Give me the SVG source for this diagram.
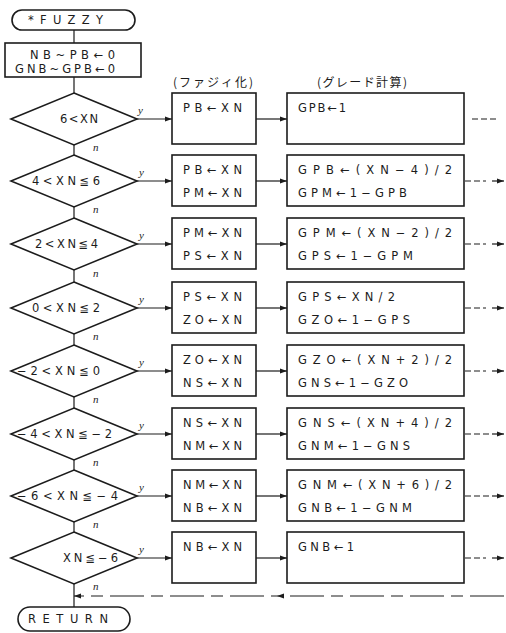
<svg xmlns="http://www.w3.org/2000/svg" width="506" height="633" viewBox="0 0 506 633">
<style>
.b{fill:#fff;stroke:#1c1c1c;stroke-width:1.6}
.c{fill:none;stroke:#1c1c1c;stroke-width:1.2}
.t{font-family:"DejaVu Sans","Noto Sans CJK JP",sans-serif;font-size:11.5px;fill:#1c1c1c}
.j{font-family:"Noto Sans CJK JP","DejaVu Sans",sans-serif;font-size:12px;fill:#1c1c1c}
.l{font-family:"Liberation Serif",serif;font-size:11px;font-style:italic;fill:#1c1c1c}
.d{stroke-dasharray:6 3}
</style>
<defs>
<marker id="a" markerUnits="userSpaceOnUse" markerWidth="8" markerHeight="6" refX="7" refY="3" orient="auto"><path d="M0,0.5 L7,3 L0,5.5 Z" fill="#1c1c1c"/></marker>
</defs>
<g id="connectors">
<path class="c" d="M74,30 V43 M74,77 V93 M74,145 V155 M74,207 V218 M74,270 V282 M74,334 V345 M74,397 V408 M74,460 V470 M74,522 V532 M74,584 V607"/>
<path class="c" marker-end="url(#a)" d="M137,119 H172"/>
<path class="c" marker-end="url(#a)" d="M137,181 H172"/>
<path class="c" marker-end="url(#a)" d="M137,244 H172"/>
<path class="c" marker-end="url(#a)" d="M137,308 H172"/>
<path class="c" marker-end="url(#a)" d="M137,371 H172"/>
<path class="c" marker-end="url(#a)" d="M137,434 H172"/>
<path class="c" marker-end="url(#a)" d="M137,496 H172"/>
<path class="c" marker-end="url(#a)" d="M137,558 H172"/>
<path class="c" marker-end="url(#a)" d="M256,119 H287"/>
<path class="c" marker-end="url(#a)" d="M256,181 H287"/>
<path class="c" marker-end="url(#a)" d="M256,244 H287"/>
<path class="c" marker-end="url(#a)" d="M256,308 H287"/>
<path class="c" marker-end="url(#a)" d="M256,371 H287"/>
<path class="c" marker-end="url(#a)" d="M256,434 H287"/>
<path class="c" marker-end="url(#a)" d="M256,496 H287"/>
<path class="c" marker-end="url(#a)" d="M256,558 H287"/>
<path class="c d" d="M472,119 H498"/>
<path class="c d" d="M465,181 H486 M465,244 H486 M465,308 H486 M465,371 H486 M465,434 H490 M465,496 H490 M465,558 H486"/>
<path class="c" marker-end="url(#a)" d="M492,181 H504"/>
<path class="c" marker-end="url(#a)" d="M492,244 H504"/>
<path class="c" marker-end="url(#a)" d="M492,308 H504"/>
<path class="c" marker-end="url(#a)" d="M492,371 H504"/>
<path class="c" marker-end="url(#a)" d="M492,434 H504"/>
<path class="c" marker-end="url(#a)" d="M492,496 H504"/>
<path class="c" marker-end="url(#a)" d="M492,558 H504"/>
<path class="c" style="stroke-dasharray:34 7 12 7" marker-mid="url(#a)" marker-end="url(#a)" d="M504,596 H277 H74"/>
</g>
<g id="start"><rect class="b" x="12" y="10" width="123" height="20" rx="10"/><text class="t" x="28" y="24" textLength="75" lengthAdjust="spacing">*FUZZY</text></g>
<g id="init"><rect class="b" x="5" y="43" width="136" height="34"/><text class="t" x="30" y="59" textLength="85" lengthAdjust="spacing">NB~PB←0</text><text class="t" x="15" y="73" textLength="100" lengthAdjust="spacing">GNB~GPB←0</text></g>
<g id="headers"><text class="j" x="173" y="87" textLength="80" lengthAdjust="spacing">(ファジィ化)</text><text class="j" x="317" y="87" textLength="90" lengthAdjust="spacing">(グレード計算)</text></g>
<g id="d1"><polygon class="b" points="74,93 137,119 74,145 11,119"/><text class="t" x="60" y="123" textLength="38" lengthAdjust="spacing">6&lt;XN</text><text class="l" x="138" y="114">y</text><text class="l" x="93" y="151">n</text></g>
<g id="d2"><polygon class="b" points="74,155 137,181 74,207 11,181"/><text class="t" x="32" y="185" textLength="68" lengthAdjust="spacing">4&lt;XN≦6</text><text class="l" x="139" y="176">y</text><text class="l" x="93" y="213">n</text></g>
<g id="d3"><polygon class="b" points="74,218 137,244 74,270 11,244"/><text class="t" x="35" y="248" textLength="63" lengthAdjust="spacing">2&lt;XN≦4</text><text class="l" x="139" y="239">y</text><text class="l" x="93" y="277">n</text></g>
<g id="d4"><polygon class="b" points="74,282 137,308 74,334 11,308"/><text class="t" x="32" y="312" textLength="68" lengthAdjust="spacing">0&lt;XN≦2</text><text class="l" x="139" y="303">y</text><text class="l" x="93" y="340">n</text></g>
<g id="d5"><polygon class="b" points="74,345 137,371 74,397 11,371"/><text class="t" x="17" y="375" textLength="83" lengthAdjust="spacing">−2&lt;XN≦0</text><text class="l" x="139" y="366">y</text><text class="l" x="93" y="403">n</text></g>
<g id="d6"><polygon class="b" points="74,408 137,434 74,460 11,434"/><text class="t" x="17" y="438" textLength="95" lengthAdjust="spacing">−4&lt;XN≦−2</text><text class="l" x="139" y="429">y</text><text class="l" x="93" y="466">n</text></g>
<g id="d7"><polygon class="b" points="74,470 137,496 74,522 11,496"/><text class="t" x="17" y="500" textLength="101" lengthAdjust="spacing">−6&lt;XN≦−4</text><text class="l" x="139" y="491">y</text><text class="l" x="93" y="528">n</text></g>
<g id="d8"><polygon class="b" points="74,532 137,558 74,584 11,558"/><text class="t" x="63" y="562" textLength="55" lengthAdjust="spacing">XN≦−6</text><text class="l" x="139" y="553">y</text><text class="l" x="93" y="590">n</text></g>
<g id="f1"><rect class="b" x="172" y="93" width="84" height="51"/><text class="t" x="183" y="112" textLength="59" lengthAdjust="spacing">PB←XN</text></g>
<g id="f2"><rect class="b" x="172" y="155" width="84" height="51"/><text class="t" x="183" y="174" textLength="59" lengthAdjust="spacing">PB←XN</text><text class="t" x="183" y="197" textLength="59" lengthAdjust="spacing">PM←XN</text></g>
<g id="f3"><rect class="b" x="172" y="218" width="84" height="51"/><text class="t" x="183" y="237" textLength="59" lengthAdjust="spacing">PM←XN</text><text class="t" x="183" y="260" textLength="59" lengthAdjust="spacing">PS←XN</text></g>
<g id="f4"><rect class="b" x="172" y="282" width="84" height="51"/><text class="t" x="183" y="301" textLength="59" lengthAdjust="spacing">PS←XN</text><text class="t" x="183" y="324" textLength="59" lengthAdjust="spacing">ZO←XN</text></g>
<g id="f5"><rect class="b" x="172" y="345" width="84" height="51"/><text class="t" x="183" y="364" textLength="59" lengthAdjust="spacing">ZO←XN</text><text class="t" x="183" y="387" textLength="59" lengthAdjust="spacing">NS←XN</text></g>
<g id="f6"><rect class="b" x="172" y="408" width="84" height="51"/><text class="t" x="183" y="427" textLength="59" lengthAdjust="spacing">NS←XN</text><text class="t" x="183" y="450" textLength="59" lengthAdjust="spacing">NM←XN</text></g>
<g id="f7"><rect class="b" x="172" y="470" width="84" height="51"/><text class="t" x="183" y="489" textLength="59" lengthAdjust="spacing">NM←XN</text><text class="t" x="183" y="512" textLength="59" lengthAdjust="spacing">NB←XN</text></g>
<g id="f8"><rect class="b" x="172" y="532" width="84" height="51"/><text class="t" x="183" y="551" textLength="59" lengthAdjust="spacing">NB←XN</text></g>
<g id="g1"><rect class="b" x="287" y="93" width="177" height="51"/><text class="t" x="298" y="112" textLength="48" lengthAdjust="spacing">GPB←1</text></g>
<g id="g2"><rect class="b" x="287" y="155" width="177" height="51"/><text class="t" x="298" y="174" textLength="154" lengthAdjust="spacing">GPB←(XN−4)/2</text><text class="t" x="298" y="197" textLength="109" lengthAdjust="spacing">GPM←1−GPB</text></g>
<g id="g3"><rect class="b" x="287" y="218" width="177" height="51"/><text class="t" x="298" y="237" textLength="154" lengthAdjust="spacing">GPM←(XN−2)/2</text><text class="t" x="298" y="260" textLength="115" lengthAdjust="spacing">GPS←1−GPM</text></g>
<g id="g4"><rect class="b" x="287" y="282" width="177" height="51"/><text class="t" x="298" y="301" textLength="97" lengthAdjust="spacing">GPS←XN/2</text><text class="t" x="298" y="324" textLength="112" lengthAdjust="spacing">GZO←1−GPS</text></g>
<g id="g5"><rect class="b" x="287" y="345" width="177" height="51"/><text class="t" x="298" y="364" textLength="154" lengthAdjust="spacing">GZO←(XN+2)/2</text><text class="t" x="298" y="387" textLength="110" lengthAdjust="spacing">GNS←1−GZO</text></g>
<g id="g6"><rect class="b" x="287" y="408" width="177" height="51"/><text class="t" x="298" y="427" textLength="154" lengthAdjust="spacing">GNS←(XN+4)/2</text><text class="t" x="298" y="450" textLength="112" lengthAdjust="spacing">GNM←1−GNS</text></g>
<g id="g7"><rect class="b" x="287" y="470" width="177" height="51"/><text class="t" x="298" y="489" textLength="154" lengthAdjust="spacing">GNM←(XN+6)/2</text><text class="t" x="298" y="512" textLength="114" lengthAdjust="spacing">GNB←1−GNM</text></g>
<g id="g8"><rect class="b" x="287" y="532" width="177" height="51"/><text class="t" x="298" y="551" textLength="56" lengthAdjust="spacing">GNB←1</text></g>
<g id="end"><rect class="b" x="18" y="607" width="112" height="24" rx="12"/><text class="t" x="28" y="623" textLength="80" lengthAdjust="spacing">RETURN</text></g>
</svg>
